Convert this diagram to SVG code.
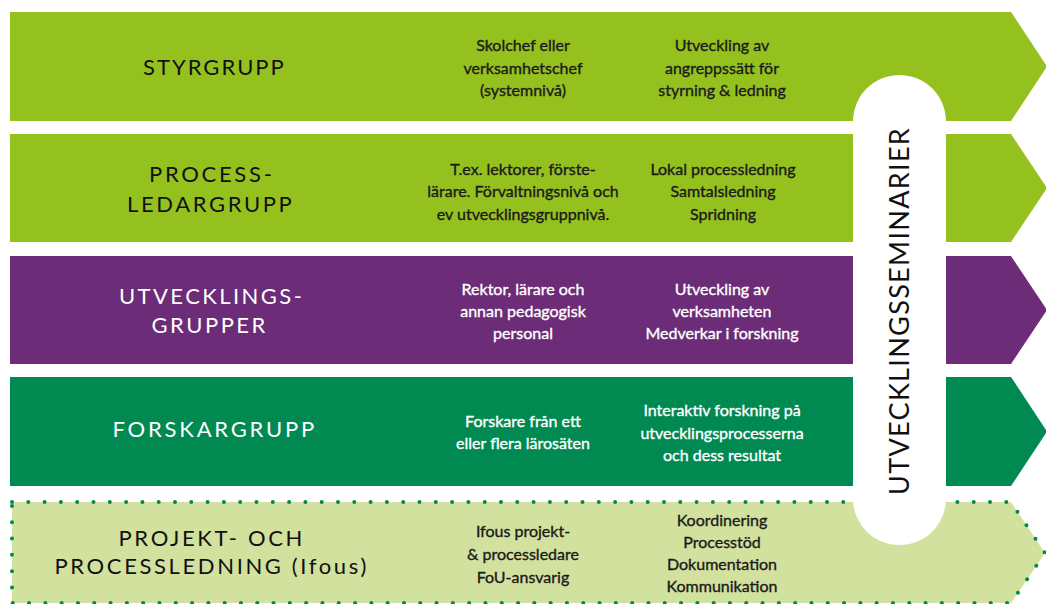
<svg xmlns="http://www.w3.org/2000/svg" width="1046" height="604" viewBox="0 0 1046 604">
<style>
.lbl{font-family:Lato,"Liberation Sans",sans-serif;font-size:22px;letter-spacing:3.2px;text-anchor:middle}
.txt{font-family:Lato,"Liberation Sans",sans-serif;font-size:16px;text-anchor:middle;fill:#1a1a1a;stroke:#1a1a1a;stroke-width:0.35px}
.dark{fill:#111}
.light{fill:#fff}
.w{fill:#fff;stroke:#fff}
</style>
<rect width="1046" height="604" fill="#fff"/>
<g id="styrgrupp">
<polygon points="10,12 1011,12 1047,66.5 1011,121 10,121" fill="#95C11F"/>
<text class="lbl dark" x="215" y="75" textLength="144" lengthAdjust="spacing">STYRGRUPP</text>
<text class="txt" x="523" y="51">Skolchef eller</text>
<text class="txt" x="523" y="74">verksamhetschef</text>
<text class="txt" x="523" y="96">(systemnivå)</text>
<text class="txt" x="722" y="51">Utveckling av</text>
<text class="txt" x="722" y="74">angreppssätt för</text>
<text class="txt" x="722" y="96">styrning &amp; ledning</text>
</g>
<g id="processledargrupp">
<polygon points="10,134 1011,134 1047,188 1011,242 10,242" fill="#95C11F"/>
<text class="lbl dark" x="212" y="182" textLength="126" lengthAdjust="spacing">PROCESS-</text>
<text class="lbl dark" x="211" y="212" textLength="168" lengthAdjust="spacing">LEDARGRUPP</text>
<text class="txt" x="523" y="175">T.ex. lektorer, förste-</text>
<text class="txt" x="523" y="197">lärare. Förvaltningsnivå och</text>
<text class="txt" x="523" y="220">ev utvecklingsgruppnivå.</text>
<text class="txt" x="723" y="175">Lokal processledning</text>
<text class="txt" x="723" y="197">Samtalsledning</text>
<text class="txt" x="723" y="220">Spridning</text>
</g>
<g id="utvecklingsgrupper">
<polygon points="10,256 1011,256 1047,310 1011,364 10,364" fill="#6C2C77"/>
<text class="lbl light" x="212" y="304" textLength="186" lengthAdjust="spacing">UTVECKLINGS-</text>
<text class="lbl light" x="210" y="333" textLength="117" lengthAdjust="spacing">GRUPPER</text>
<text class="txt w" x="523" y="295">Rektor, lärare och</text>
<text class="txt w" x="523" y="317">annan pedagogisk</text>
<text class="txt w" x="523" y="339">personal</text>
<text class="txt w" x="722" y="295">Utveckling av</text>
<text class="txt w" x="722" y="317">verksamheten</text>
<text class="txt w" x="722" y="339">Medverkar i forskning</text>
</g>
<g id="forskargrupp">
<polygon points="10,377 1011,377 1047,431.5 1011,486 10,486" fill="#008A52"/>
<text class="lbl light" x="215" y="437" textLength="205" lengthAdjust="spacing">FORSKARGRUPP</text>
<text class="txt w" x="523" y="427">Forskare från ett</text>
<text class="txt w" x="523" y="449">eller flera lärosäten</text>
<text class="txt w" x="722" y="416">Interaktiv forskning på</text>
<text class="txt w" x="722" y="439">utvecklingsprocesserna</text>
<text class="txt w" x="722" y="461">och dess resultat</text>
</g>
<g id="projektledning">
<polygon points="12,502 1011,502 1045,553 1011,603 12,603 12,502" fill="#D2E19D" stroke="#00894F" stroke-width="4" stroke-linecap="round" stroke-dasharray="0 16.3"/>
<text class="lbl dark" x="212" y="546" textLength="187" lengthAdjust="spacing">PROJEKT- OCH</text>
<text class="lbl dark" x="212" y="574" textLength="315" lengthAdjust="spacing">PROCESSLEDNING (Ifous)</text>
<text class="txt" x="523" y="537">Ifous projekt-</text>
<text class="txt" x="523" y="560">&amp; processledare</text>
<text class="txt" x="523" y="583">FoU-ansvarig</text>
<text class="txt" x="722" y="526">Koordinering</text>
<text class="txt" x="722" y="548">Processtöd</text>
<text class="txt" x="722" y="570">Dokumentation</text>
<text class="txt" x="722" y="592">Kommunikation</text>
</g>
<g id="utvecklingsseminarier">
<rect x="853" y="75" width="93" height="470" rx="46.5" ry="46.5" fill="#fff"/>
<text class="lbl dark" transform="translate(909,310) rotate(-90)" x="0" y="0" style="font-size:27px" textLength="370" lengthAdjust="spacing">UTVECKLINGSSEMINARIER</text>
</g>
<g id="connectors"/>
</svg>
